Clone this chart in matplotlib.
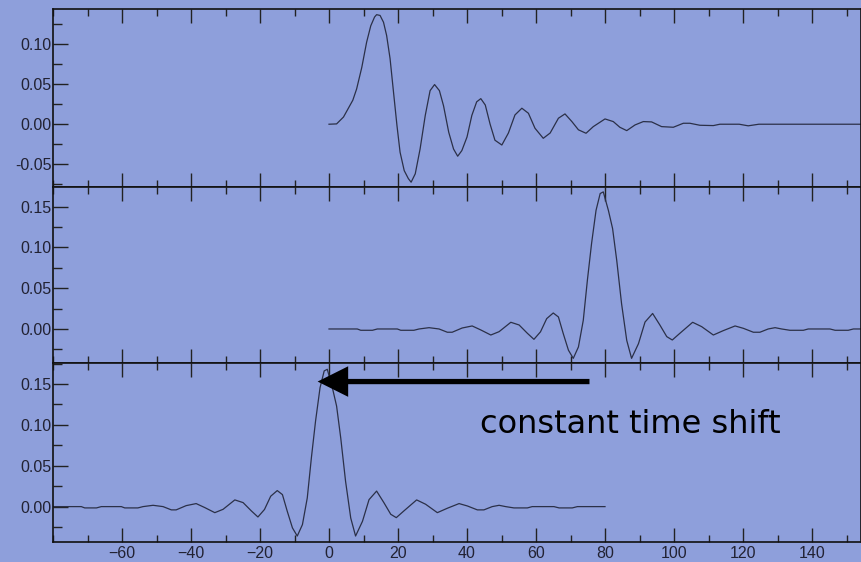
import numpy as np
import matplotlib
matplotlib.use("Agg")
import matplotlib.pyplot as plt
from matplotlib.ticker import MultipleLocator, FixedLocator, FormatStrFormatter

# ---- data ----
# panel 1: decaying oscillation
t1 = [0, 2.2, 4.2, 6.9, 8.0, 9.5, 10.9, 12.1, 13.2, 13.8, 14.8, 15.8, 16.7, 17.7, 18.7,
      19.7, 20.6, 21.8, 23.0, 23.8, 25.0, 26.4, 27.9, 29.3, 30.6, 32.0, 33.2, 34.7, 36.1,
      37.3, 38.5, 40.0, 41.4, 42.8, 44.0, 45.3, 46.7, 48.1, 50.1, 52.0, 53.9, 55.9, 57.8,
      59.7, 62.1, 64.1, 66.5, 68.4, 70.4, 72.3, 74.5, 76.6, 80.0, 82.4, 84.3, 86.3, 88.7,
      91.1, 93.5, 96.4, 99.8, 102.7, 104.6, 107.5, 111.4, 113.3, 118.9, 121.5, 124.6, 160]
v1 = [0, 0.0004, 0.009, 0.030, 0.044, 0.071, 0.1025, 0.123, 0.134, 0.137, 0.136, 0.1275,
      0.111, 0.082, 0.040, -0.0017, -0.035, -0.058, -0.068, -0.0725, -0.062, -0.031, 0.011,
      0.042, 0.0496, 0.042, 0.023, -0.010, -0.031, -0.040, -0.033, -0.016, 0.011, 0.028,
      0.032, 0.024, 0.0, -0.020, -0.026, -0.011, 0.0116, 0.020, 0.0137, -0.005, -0.0176,
      -0.011, 0.0075, 0.0129, 0.0033, -0.007, -0.0113, -0.003, 0.0066, 0.0033, -0.0038,
      -0.008, -0.0009, 0.0033, 0.0029, -0.003, -0.0038, 0.0012, 0.0012, -0.0013, -0.0017,
      0.0, 0.0, -0.002, 0.0, 0.0]

# panel 2: symmetric wavelet (panel 3 is the same trace shifted in time)
t2 = [0, 8.2, 9.2, 12.6, 14.0, 19.8, 20.8, 24.6, 26.1, 29.0, 31.9, 34.3, 35.7, 38.6, 41.5,
      44.0, 46.9, 49.3, 52.7, 55.1, 57.5, 59.4, 61.3, 63.1, 65.0, 66.5, 67.9, 69.4, 70.8,
      72.3, 73.7, 74.9, 76.1, 77.4, 78.6, 79.5, 81.0, 82.2, 83.4, 84.8, 86.3, 87.7, 89.7,
      91.6, 93.8, 95.9, 97.9, 99.5, 101.7, 105.4, 108.0, 111.4, 114.3, 117.7, 120.1, 123.0,
      124.9, 127.3, 129.3, 131.2, 133.6, 137.5, 138.9, 145.2, 146.7, 150.5, 152, 160]
v2 = [0, 0, -0.0016, -0.0016, 0, 0, -0.0016, -0.0016, 0, 0.0016, 0, -0.004, -0.004,
      0.0012, 0.0037, -0.0012, -0.0074, -0.0033, 0.0082, 0.0049, -0.0053, -0.0127,
      -0.0035, 0.0127, 0.0196, 0.0147, -0.0057, -0.026, -0.036, -0.022, 0.0106, 0.060,
      0.1046, 0.1454, 0.166, 0.168, 0.145, 0.123, 0.084, 0.031, -0.014, -0.036, -0.018,
      0.0085, 0.019, 0.0049, -0.0094, -0.0135, -0.0053, 0.0082, 0.0029, -0.0074, -0.002,
      0.0037, 0.0008, -0.004, -0.004, 0, 0.0016, 0, -0.0016, -0.0016, 0, 0, -0.0016,
      -0.0016, 0, 0]
time_shift = 80

x_ticks = [-60, -40, -20, 0, 20, 40, 60, 80, 100, 120, 140]
annotation = "constant time shift"

# ---- style ----
bg = "#8E9FDB"
line_c = "#2b3048"
plt.rcParams["font.family"] = ["Liberation Sans", "DejaVu Sans"]

fig = plt.figure(figsize=(8.61, 5.62), dpi=100, facecolor=bg)
left, right = 53 / 861, 1.0
bounds = [(9.3, 187), (187, 363), (363, 542)]
ylims = [(-0.0785, 0.1437), (-0.0417, 0.174), (-0.0433, 0.1757)]

axes = []
for (top_px, bot_px), yl in zip(bounds, ylims):
    b = 1 - bot_px / 562
    h = (bot_px - top_px) / 562
    ax = fig.add_axes([left, b, right - left, h], facecolor=bg)
    ax.set_xlim(-80, 154.2)
    ax.set_ylim(*yl)
    ax.xaxis.set_major_locator(FixedLocator(x_ticks))
    ax.xaxis.set_minor_locator(MultipleLocator(10))
    ax.yaxis.set_major_locator(MultipleLocator(0.05))
    ax.yaxis.set_minor_locator(MultipleLocator(0.025))
    ax.tick_params(axis="x", which="major", direction="in", top=True, bottom=True,
                   length=10, width=1.0, colors="#222222", labelsize=11.5, pad=3,
                   labelcolor="#222233")
    ax.tick_params(axis="x", which="minor", direction="in", top=True, bottom=True,
                   length=5, width=1.0, colors="#222222")
    ax.tick_params(axis="y", which="major", direction="in", left=True, right=False,
                   length=10.5, width=1.0, colors="#222222", labelsize=11.5, pad=1,
                   labelcolor="#222233")
    ax.tick_params(axis="y", which="minor", direction="in", left=True, right=False,
                   length=6.5, width=1.0, colors="#222222")
    ax.yaxis.set_major_formatter(FormatStrFormatter("%.2f"))
    for s in ax.spines.values():
        s.set_linewidth(1.2)
        s.set_color("#111111")
    axes.append(ax)

for ax in axes[:2]:
    ax.tick_params(axis="x", labelbottom=False)

axes[0].plot(t1, v1, color=line_c, lw=0.9)
axes[1].plot(t2, v2, color=line_c, lw=0.9)
axes[2].plot(np.array(t2) - time_shift, v2, color=line_c, lw=0.9)
axes[2].set_xlim(-80, 154.2)

ax3 = axes[2]
ax3.annotate("", xy=(-3.3, 0.153), xytext=(75.5, 0.153),
             arrowprops=dict(width=3.8, headwidth=22, headlength=22,
                             facecolor="black", edgecolor="black", lw=0,
                             shrink=0))
ax3.text(43.8, 0.090, annotation, fontsize=23, color="black", ha="left",
         va="baseline", family=["DejaVu Sans"])

fig.savefig("out.png", dpi=100, facecolor=bg)
